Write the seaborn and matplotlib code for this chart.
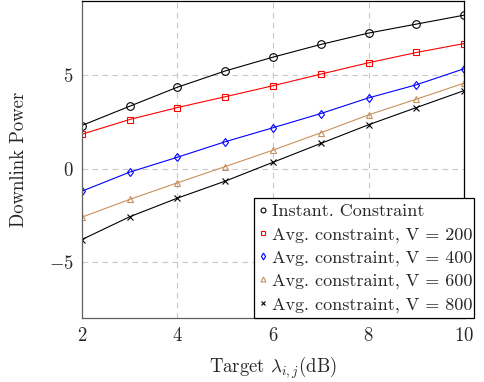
import numpy as np
import pandas as pd
import seaborn as sns
import matplotlib
matplotlib.use('Agg')
import matplotlib.pyplot as plt
from matplotlib.lines import Line2D

# Data
target_db = [2, 3, 4, 5, 6, 7, 8, 9, 10]
instant = [2.32, 3.35, 4.37, 5.24, 5.98, 6.66, 7.27, 7.75, 8.23]
avg_v200 = [1.85, 2.64, 3.28, 3.86, 4.45, 5.07, 5.68, 6.23, 6.71]
avg_v400 = [-1.20, -0.18, 0.62, 1.45, 2.20, 2.96, 3.80, 4.50, 5.36]
avg_v600 = [-2.59, -1.64, -0.75, 0.12, 1.00, 1.93, 2.89, 3.73, 4.59]
avg_v800 = [-3.79, -2.57, -1.57, -0.66, 0.35, 1.36, 2.36, 3.28, 4.19]

labels = ['Instant. Constraint',
          'Avg. constraint, V = 200',
          'Avg. constraint, V = 400',
          'Avg. constraint, V = 600',
          'Avg. constraint, V = 800']
series = [instant, avg_v200, avg_v400, avg_v600, avg_v800]
colors = ['black', 'red', 'blue', '#c8915a', 'black']
markers = ['o', 's', 'd', '^', 'x']
msizes = [5.5, 5.0, 4.5, 5.0, 4.5]

sns.set_style('white')
plt.rcParams['font.family'] = 'cmr10'
plt.rcParams['mathtext.fontset'] = 'cm'
plt.rcParams['axes.formatter.use_mathtext'] = True
plt.rcParams['font.size'] = 13.5

fig = plt.figure(figsize=(4.84, 3.82), dpi=100)
ax = fig.add_axes([0.169, 0.167, 0.79, 0.831])

for y, lab, c, m, ms in zip(series, labels, colors, markers, msizes):
    df = pd.DataFrame({'x': target_db, 'y': y})
    sns.lineplot(data=df, x='x', y='y', ax=ax, color=c, marker=m, markersize=ms,
                 markerfacecolor='none', markeredgecolor=c, markeredgewidth=0.8,
                 linewidth=0.8, label=lab, legend=False)

ax.set_xlim(2, 10)
ax.set_ylim(-8, 9)
ax.set_xticks([2, 4, 6, 8, 10])
ax.set_yticks([-5, 0, 5])
ax.grid(True, linestyle=(0, (5, 4)), color='#c8c8c8', linewidth=0.8)
for s in ['left', 'bottom']:
    ax.spines[s].set_color('#606060')
for s in ['top', 'right']:
    ax.spines[s].set_color('black')
for s in ax.spines.values():
    s.set_linewidth(0.9)
ax.tick_params(length=0, labelsize=13.5, pad=6)

ax.set_xlabel(r'Target $\lambda_{i,j}$(dB)', fontsize=13.5, labelpad=7)
ax.set_ylabel('Downlink Power', fontsize=13.5, labelpad=15)

handles = [Line2D([], [], linestyle='None', marker=m, color=c, markerfacecolor='none',
                  markersize=3.5, markeredgewidth=0.8) for c, m in zip(colors, markers)]
leg = fig.legend(handles, labels, loc='lower left',
                 bbox_to_anchor=(254 / 484, 64 / 382, 220 / 484, 122 / 382),
                 mode='expand', fancybox=False, framealpha=1, edgecolor='black',
                 handlelength=0.4, handletextpad=0.3, borderpad=0.3, labelspacing=0.4,
                 fontsize=13, borderaxespad=0)
leg.get_frame().set_linewidth(0.9)

fig.savefig('out.png', dpi=100)
